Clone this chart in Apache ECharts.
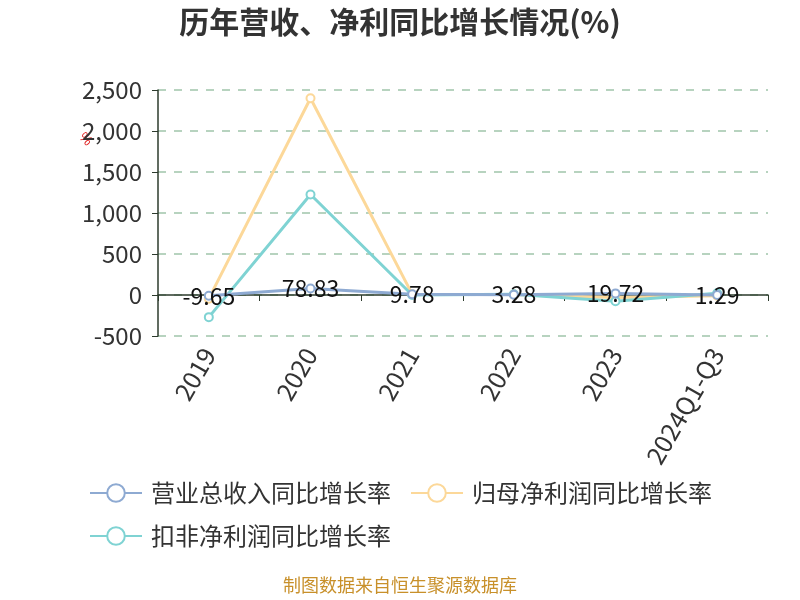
<!DOCTYPE html>
<html><head><meta charset="utf-8">
<script src="https://cdn.jsdelivr.net/npm/echarts@6/dist/echarts.min.js"></script>
<style>html,body{margin:0;padding:0;background:#fff}#c{width:800px;height:600px}</style>
</head><body><div id="c"></div>
<script>
const categories = ['2019','2020','2021','2022','2023','2024Q1-Q3'];
const revenueGrowth = [-9.65, 78.83, 9.78, 3.28, 19.72, 1.29];
const netProfitGrowth = [-45, 2400, 10, 5, -30, -10];
const deductedProfitGrowth = [-270, 1225, 0, 10, -75, 20];
const yTicks = {min: -500, max: 2500, interval: 500};
const seriesNames = ['营业总收入同比增长率','归母净利润同比增长率','扣非净利润同比增长率'];

const chart = echarts.init(document.getElementById('c'));
const font = '"Noto Sans CJK SC",sans-serif';
function mk(name, data, color, showLabel, z){
  return {
    name, type:'line', data, z,
    symbol:'emptyCircle', symbolSize:8,
    lineStyle:{color, width:3},
    itemStyle:{color, borderWidth:2},
    label:{show:showLabel, position:'inside', color:'#111', fontSize:23, fontFamily:font,
      formatter:p=>p.value},
  };
}
chart.setOption({
  backgroundColor:'#fff',
  title:{text:'历年营收、净利同比增长情况(%)', left:'center', top:2,
    textStyle:{fontSize:30, fontWeight:'bold', color:'#333', fontFamily:font}},
  grid:{left:158, right:32, top:90, bottom:264},
  legend:{left:84, top:476, width:710, itemWidth:52, itemHeight:22, itemGap:19,
    textStyle:{fontSize:24, color:'#333', fontFamily:font, padding:[0,16,0,4]},
    data:seriesNames},
  xAxis:{type:'category', data:categories, boundaryGap:true,
    axisLine:{onZero:true, lineStyle:{color:'#2d3b2d', width:1.5}},
    axisTick:{show:true, length:6, lineStyle:{color:'#2d3b2d'}},
    axisLabel:{rotate:60, fontSize:25, color:'#333', fontFamily:font, margin:14, interval:0}},
  yAxis:{type:'value', min:yTicks.min, max:yTicks.max, interval:yTicks.interval,
    axisLine:{show:true, lineStyle:{color:'#2d3b2d', width:1.5}},
    axisTick:{show:true, length:6, lineStyle:{color:'#2d3b2d'}},
    axisLabel:{fontSize:24, color:'#333', fontFamily:font, margin:16,
      formatter:v=>v.toLocaleString('en-US')},
    splitLine:{lineStyle:{type:[8,8], color:'#b7d3bf', width:2}}},
  series:[
    mk(seriesNames[0], revenueGrowth, '#8eaad2', true, 5),
    mk(seriesNames[1], netProfitGrowth, '#fcd899', false, 3),
    mk(seriesNames[2], deductedProfitGrowth, '#7fd3d3', false, 4),
  ],
  graphic:[
    {type:'text', left:'center', top:576, style:{text:'制图数据来自恒生聚源数据库', fontSize:18, fill:'#c8902a', fontFamily:font}},
    {type:'text', x:86, y:130, rotation:-Math.PI/4, style:{text:'%', fontSize:14, fill:'#e02020'}}
  ]
});
</script></body></html>
